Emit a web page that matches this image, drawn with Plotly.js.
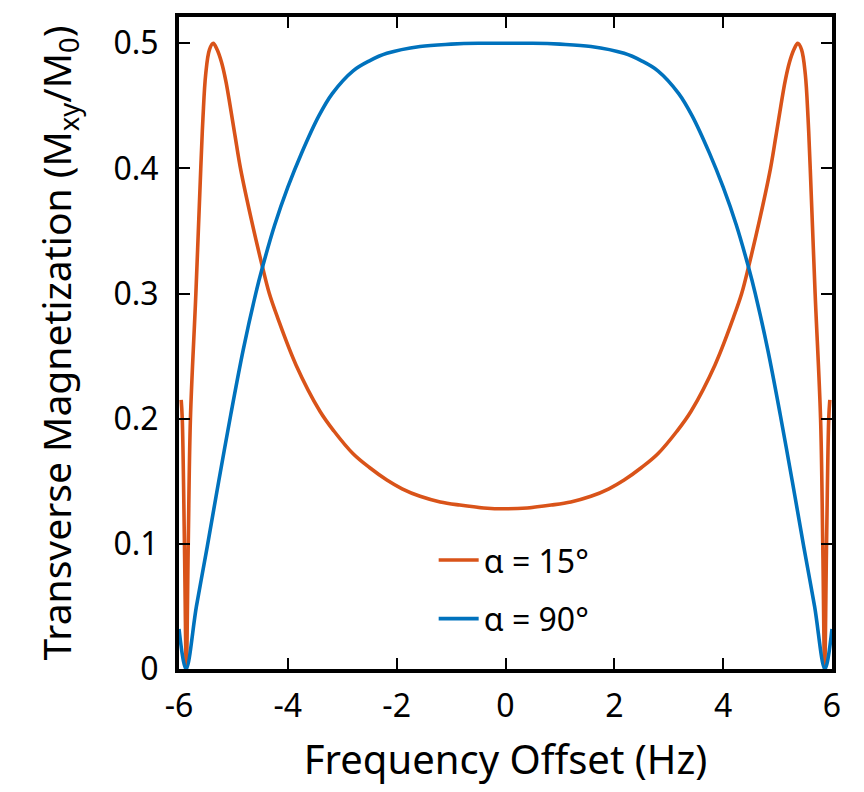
<!DOCTYPE html>
<html>
<head>
<meta charset="utf-8">
<script src="https://cdn.plot.ly/plotly-3.0.1.min.js"></script>
<style>
  html, body { margin: 0; padding: 0; background: #fff; }
  #chart { width: 864px; height: 792px; }
</style>
</head>
<body>
<div id="chart"></div>
<script>
// Frequency offset (Hz) sample positions and Mxy/M0 values
const freqOrange = [-5.96, -5.94, -5.90, -5.865, -5.83, -5.79, -5.69, -5.60, -5.56, -5.51, -5.44, -5.37, -5.30, -5.22, -5.14, -5.06, -4.97, -4.87, -4.67, -4.47, -4.34, -4.19, -3.85, -3.41, -3.15, -2.8, -2.5, -2.18, -1.9, -1.57, -1.2, -0.84, -0.4, 0,
                    0.4, 0.84, 1.2, 1.57, 1.9, 2.18, 2.5, 2.8, 3.15, 3.41, 3.85, 4.19, 4.34, 4.47, 4.67, 4.87, 4.97, 5.06, 5.14, 5.22, 5.30, 5.37, 5.44, 5.51, 5.56, 5.60, 5.69, 5.79, 5.83, 5.865, 5.90, 5.94, 5.96];
const mxyOrange = [0.215, 0.2, 0.1, 0.0, 0.1, 0.2, 0.3, 0.40, 0.44, 0.475, 0.495, 0.5, 0.495, 0.485, 0.470, 0.450, 0.426, 0.40, 0.359, 0.322, 0.300, 0.281, 0.243, 0.206, 0.190, 0.172, 0.161, 0.151, 0.144, 0.138, 0.1335, 0.131, 0.1287, 0.128,
                   0.1287, 0.131, 0.1335, 0.138, 0.144, 0.151, 0.161, 0.172, 0.190, 0.206, 0.243, 0.281, 0.300, 0.322, 0.359, 0.40, 0.426, 0.450, 0.470, 0.485, 0.495, 0.5, 0.495, 0.475, 0.44, 0.40, 0.3, 0.2, 0.1, 0.0, 0.1, 0.2, 0.215];

const freqBlue = [-6, -5.87, -5.68, -5.48, -5.27, -5.05, -4.82, -4.59, -4.46, -4.24, -4.0, -3.75, -3.43, -3.18, -2.8, -2.5, -2.18, -1.57, -1.0, -0.5, 0,
                  0.5, 1.0, 1.57, 2.18, 2.5, 2.8, 3.18, 3.43, 3.75, 4.0, 4.24, 4.46, 4.59, 4.82, 5.05, 5.27, 5.48, 5.68, 5.87, 6];
const mxyBlue = [0.032, 0.0, 0.05, 0.098, 0.15, 0.203, 0.255, 0.30, 0.322, 0.355, 0.385, 0.412, 0.442, 0.460, 0.478, 0.486, 0.492, 0.4975, 0.4993, 0.5, 0.5,
                 0.5, 0.4993, 0.4975, 0.492, 0.486, 0.478, 0.460, 0.442, 0.412, 0.385, 0.355, 0.322, 0.30, 0.255, 0.203, 0.15, 0.098, 0.05, 0.0, 0.032];

const seriesNames = ['α = 15°', 'α = 90°'];
const xTickVals = [-6, -4, -2, 0, 2, 4, 6];
const xTickText = ['-6', '-4', '-2', '0', '2', '4', '6'];
const yTickVals = [0, 0.1, 0.2, 0.3, 0.4, 0.5];
const yTickText = ['0', '0.1', '0.2', '0.3', '0.4', '0.5'];

const FONT = 'Noto Sans, Open Sans, sans-serif';

const traces = [
  { x: freqOrange, y: mxyOrange, name: seriesNames[0], legendgroup: 'a', type: 'scatter', mode: 'lines',
    line: { color: '#D95319', width: 3.6, shape: 'spline', smoothing: 1 } },
  { x: freqBlue, y: mxyBlue, name: seriesNames[1], legendgroup: 'b', type: 'scatter', mode: 'lines',
    line: { color: '#0072BD', width: 3.6, shape: 'spline', smoothing: 1 } }
];

const axisCommon = {
  showline: true, linecolor: '#000', linewidth: 4, mirror: 'ticks',
  ticks: 'inside', ticklen: 11, tickwidth: 2, tickcolor: '#000',
  showgrid: false, zeroline: false,
  tickfont: { family: FONT, size: 32, color: '#000' }
};

const layout = {
  width: 864, height: 792,
  margin: { l: 179, r: 32, t: 17, b: 123 },
  paper_bgcolor: '#fff', plot_bgcolor: '#fff',
  font: { family: FONT, color: '#000' },
  showlegend: true,
  legend: {
    x: 0.39, y: 0.209, xanchor: 'left', yanchor: 'top',
    bgcolor: 'rgba(0,0,0,0)', borderwidth: 0,
    traceorder: 'grouped', tracegroupgap: 14,
    font: { family: FONT, size: 32, color: '#000' },
    itemwidth: 40
  },
  xaxis: Object.assign({}, axisCommon, {
    range: [-6, 6], tickmode: 'array', tickvals: xTickVals, ticktext: xTickText,
    ticklabelstandoff: 6,
    title: { text: 'Frequency Offset (Hz)', font: { family: FONT, size: 40, color: '#000' }, standoff: 22 }
  }),
  yaxis: Object.assign({}, axisCommon, {
    range: [0, 0.521], tickmode: 'array', tickvals: yTickVals, ticktext: yTickText,
    ticklabelstandoff: 10,
    title: { text: 'Transverse Magnetization (M<sub>xy</sub>/M<sub>0</sub>)', font: { family: FONT, size: 39, color: '#000' }, standoff: 31 }
  })
};

Plotly.newPlot('chart', traces, layout, { displayModeBar: false, staticPlot: true });
</script>
</body>
</html>
